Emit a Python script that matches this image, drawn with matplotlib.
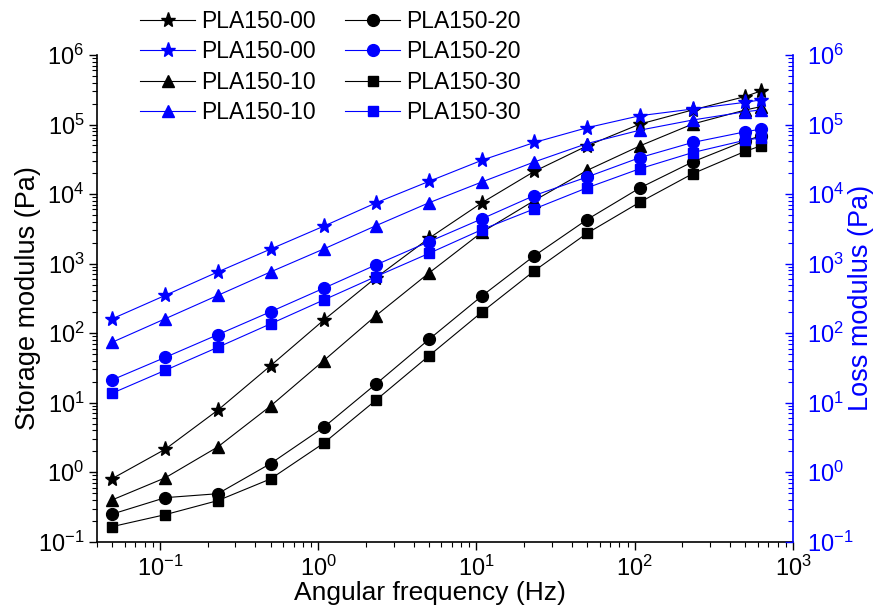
import matplotlib
matplotlib.use("Agg")
import matplotlib.pyplot as plt
from matplotlib.ticker import LogLocator, NullFormatter

plt.rcParams['font.family'] = ['Liberation Sans', 'DejaVu Sans']
plt.rcParams['mathtext.default'] = 'regular'

freq = [0.05, 0.108, 0.232, 0.5, 1.08, 2.32, 5.0, 10.8, 23.2, 50.0, 108, 232, 500, 628]
labels = ["PLA150-00", "PLA150-10", "PLA150-20", "PLA150-30"]

g1_00 = [0.81, 2.14, 7.8, 34, 153, 629, 2308, 7480, 21200, 49400, 101600, 162000, 253000, 305000]
g1_10 = [0.40, 0.83, 2.31, 8.95, 40, 179, 730, 2820, 8070, 21900, 49400, 101600, 162000, 181000]
g1_20 = [0.25, 0.43, 0.49, 1.33, 4.4, 18.6, 81, 341, 1295, 4300, 12300, 29000, 58400, 69000]
g1_30 = [0.165, 0.245, 0.39, 0.80, 2.6, 10.9, 47, 200, 787, 2730, 7660, 19600, 41300, 49400]

g2_00 = [161, 349, 759, 1617, 3440, 7480, 15200, 30600, 55200, 90000, 134000, 167000, 209000, 226000]
g2_10 = [74, 161, 349, 759, 1617, 3515, 7480, 14900, 29000, 53300, 83100, 116000, 153000, 162000]
g2_20 = [21.3, 44.8, 95, 203, 441, 960, 2060, 4400, 9530, 17600, 33500, 55200, 78700, 85900]
g2_30 = [13.7, 29.2, 62.5, 136, 299, 652, 1400, 3077, 6120, 12300, 23200, 39500, 59600, 64500]

storage = [g1_00, g1_10, g1_20, g1_30]
loss = [g2_00, g2_10, g2_20, g2_30]
markers = ['*', '^', 'o', 's']
msizes = [11, 9, 8.5, 7.5]

W, H = 877, 609
fig = plt.figure(figsize=(W / 100, H / 100), dpi=100)
L, R, T, B = 97, 793, 55, 541.7
ax = fig.add_axes([L / W, 1 - B / H, (R - L) / W, (B - T) / H])
ax2 = ax.twinx()

blue = '#0000FF'
h_black, h_blue = [], []
for i in range(4):
    l1, = ax.plot(freq, storage[i], color='black', marker=markers[i], ms=msizes[i],
                  lw=0.8, label=labels[i], clip_on=False)
    l2, = ax2.plot(freq, loss[i], color=blue, marker=markers[i], ms=msizes[i],
                   lw=0.8, label=labels[i], clip_on=False)
    h_black.append(l1)
    h_blue.append(l2)

for a in (ax, ax2):
    a.set_xscale('log')
    a.set_yscale('log')
    a.set_xlim(0.04, 1000)
    a.set_ylim(0.1, 1e6)
    a.spines['top'].set_visible(False)

for axis in (ax.yaxis, ax2.yaxis, ax.xaxis):
    axis.set_major_locator(LogLocator(base=10, numticks=20))
    axis.set_minor_locator(LogLocator(base=10, subs=range(2, 10), numticks=20))
    axis.set_minor_formatter(NullFormatter())

ax.tick_params(axis='both', which='major', direction='out', length=6, width=1, labelsize=17, pad=3)
ax.tick_params(axis='both', which='minor', direction='out', length=3.5, width=0.8)
ax.tick_params(axis='x', which='major', pad=4)
ax.spines['right'].set_visible(False)

ax2.spines['right'].set_color(blue)
ax2.spines['right'].set_linewidth(1.2)
ax2.spines['left'].set_visible(False)
ax2.spines['bottom'].set_visible(False)
ax2.tick_params(axis='y', which='major', direction='in', length=6, width=1, colors=blue,
                labelsize=17, pad=10)
ax2.tick_params(axis='y', which='minor', direction='in', length=3.5, width=0.8, colors=blue)
for s in ('left', 'bottom'):
    ax.spines[s].set_linewidth(1.2)

ax.set_xlabel('Angular frequency (Hz)', fontsize=19)
ax.set_ylabel('Storage modulus (Pa)', fontsize=19.5)
ax2.set_ylabel('Loss modulus (Pa)', fontsize=19.5, color=blue)
axw, axh = R - L, B - T
ax.xaxis.set_label_coords((430 - L) / axw, -(593 - B) / axh)
ax.yaxis.set_label_coords(-(L - 28) / axw, 0.5)
ax2.yaxis.set_label_coords((861 - L) / axw, 0.5)
ax.xaxis.label.set_va('center')
ax.yaxis.label.set_va('center')
ax2.yaxis.label.set_va('center')

handles = [h_black[0], h_blue[0], h_black[1], h_blue[1],
           h_black[2], h_blue[2], h_black[3], h_blue[3]]
leg_labels = [h.get_label() for h in handles]
fig.legend(handles, leg_labels, ncol=2, loc='upper left', bbox_to_anchor=(140 / W, 1 - 10 / H),
           frameon=False, fontsize=16.5, handlelength=2.4, handletextpad=0.25,
           columnspacing=1.3, labelspacing=0.32, borderaxespad=0, borderpad=0)

fig.savefig('out.png', dpi=100)
